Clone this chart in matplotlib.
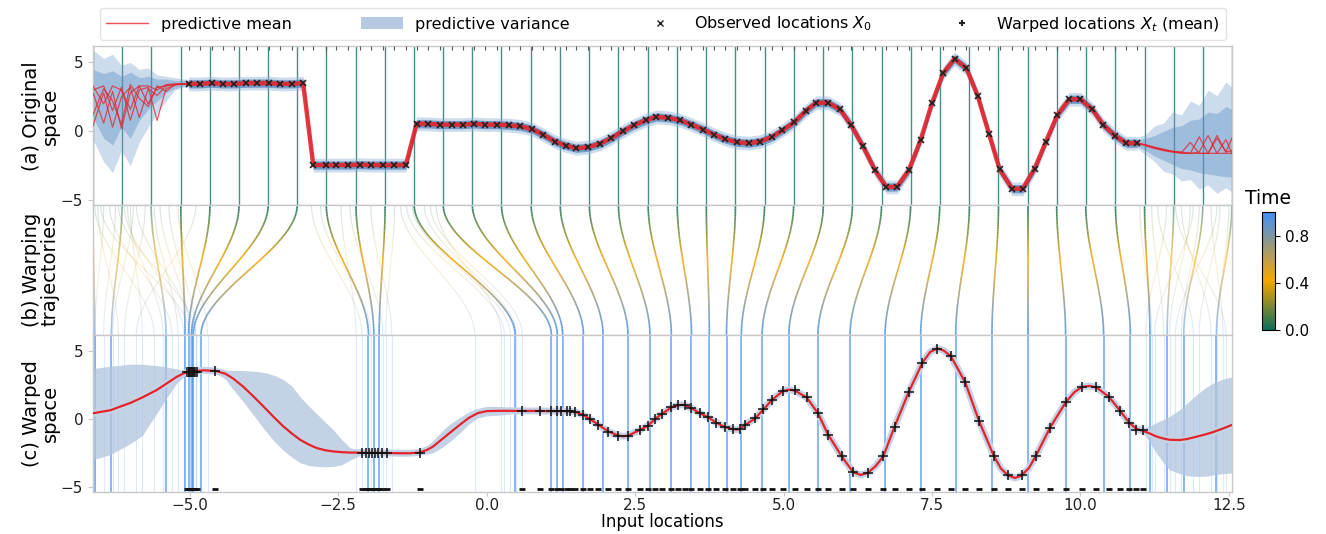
import numpy as np
import matplotlib
matplotlib.use("Agg")
import matplotlib.pyplot as plt
from matplotlib.collections import LineCollection
from matplotlib.colors import LinearSegmentedColormap, Normalize
from matplotlib.lines import Line2D
from matplotlib.patches import Patch
from matplotlib.cm import ScalarMappable

# ---------------- data ----------------
# observed locations X0 and values (original space)
obs_x = [-5.02, -4.83, -4.63, -4.44, -4.25, -4.06, -3.86, -3.67, -3.48, -3.28, -3.09,
         -2.92, -2.71, -2.53, -2.33, -2.13, -1.94, -1.75, -1.56, -1.36,
         -1.18, -0.98, -0.79, -0.59, -0.40, -0.21, -0.02, 0.18, 0.38, 0.56, 0.76, 0.95,
         1.15, 1.33, 1.51, 1.71, 1.91, 2.10, 2.29, 2.48, 2.68, 2.86, 3.06,
         3.25, 3.45, 3.65, 3.83, 4.02, 4.22, 4.42, 4.60, 4.80, 4.98, 5.18, 5.37, 5.55,
         5.75, 5.95, 6.14, 6.34, 6.54, 6.73, 6.91,
         7.11, 7.31, 7.50, 7.69, 7.88, 8.08, 8.27, 8.46, 8.64, 8.85, 9.03, 9.23, 9.42,
         9.61, 9.81, 10.00, 10.20, 10.38, 10.58, 10.77, 10.96]
obs_y = [3.45, 3.45, 3.50, 3.45, 3.45, 3.50, 3.50, 3.50, 3.45, 3.45, 3.50,
         -2.45, -2.45, -2.45, -2.45, -2.42, -2.45, -2.45, -2.45, -2.45,
         0.55, 0.54, 0.49, 0.49, 0.49, 0.54, 0.49, 0.49, 0.44, 0.37, 0.17, -0.24,
         -0.74, -1.03, -1.23, -1.15, -0.90, -0.49, 0.00, 0.44, 0.81, 1.05, 0.98,
         0.81, 0.49, 0.13, -0.24, -0.57, -0.79, -0.86, -0.74, -0.42, 0.07, 0.66, 1.47, 2.08,
         2.08, 1.60, 0.44, -1.10, -2.82, -4.04, -4.04,
         -2.82, -0.61, 2.04, 4.24, 5.27, 4.58, 2.57, -0.17, -2.77, -4.17, -4.17, -2.70, -0.74,
         1.18, 2.33, 2.33, 1.60, 0.49, -0.32, -0.86, -0.86]

# uncertain edges of the original space (sampled predictive means)
left_x = [-6.63, -6.45, -6.3, -6.15, -6.0, -5.85, -5.7, -5.55, -5.4, -5.25, -5.1, -5.02]
left_samples = [
    [0.4, 2.8, 0.3, 2.5, 3.2, 1.0, 3.1, 2.6, 3.3, 3.4, 3.45, 3.45],
    [2.8, 0.6, 2.9, 0.2, 2.8, 3.3, 2.0, 3.2, 3.3, 3.4, 3.45, 3.45],
    [3.0, 3.3, 1.5, 3.2, 0.8, 3.0, 3.2, 0.8, 3.1, 3.35, 3.45, 3.45],
    [1.2, 3.1, 2.2, 0.5, 3.4, 2.4, 1.8, 3.3, 2.9, 3.4, 3.45, 3.45],
    [3.3, 2.0, 3.3, 3.0, 1.6, 3.3, 3.3, 3.0, 3.4, 3.45, 3.45, 3.45],
]
left_hi_out = [5.9, 5.3, 5.6, 4.8, 5.0, 4.5, 4.6, 4.1, 4.0, 3.9, 3.8, 3.8]
left_lo_out = [-0.6, -2.2, -3.0, -1.4, -2.5, -0.8, 0.3, 1.3, 2.2, 3.0, 3.2, 3.2]
left_hi_in = [4.5, 4.2, 4.4, 4.0, 4.3, 3.9, 4.0, 3.8, 3.8, 3.7, 3.7, 3.7]
left_lo_in = [1.0, -0.5, -1.0, 0.3, -0.5, 0.8, 1.6, 2.2, 2.8, 3.1, 3.3, 3.3]

right_x = [10.96, 11.1, 11.25, 11.4, 11.55, 11.7, 11.85, 12.0, 12.15, 12.3, 12.45, 12.55]
right_samples = [
    [-0.86, -1.0, -1.2, -1.35, -1.45, -1.55, -1.6, -1.6, -1.6, -1.6, -1.6, -1.6],
    [-0.86, -1.05, -1.25, -1.4, -1.5, -1.6, -1.6, -0.4, -1.6, -0.3, -1.5, -0.5],
    [-0.86, -0.98, -1.15, -1.3, -1.45, -1.5, -1.6, -1.5, -0.3, -1.6, -0.6, -1.6],
    [-0.86, -1.0, -1.2, -1.35, -1.5, -1.55, -0.8, -1.6, -1.6, -0.5, -1.5, -1.4],
]
right_hi_out = [-0.45, -0.2, 0.4, 0.6, 1.4, 1.2, 2.2, 1.9, 3.0, 2.6, 3.6, 3.2]
right_lo_out = [-1.25, -1.7, -2.2, -2.9, -3.1, -3.6, -3.5, -4.2, -3.9, -4.5, -4.1, -4.4]
right_hi_in = [-0.6, -0.5, -0.3, 0.0, 0.3, 0.4, 0.8, 0.9, 1.4, 1.3, 1.8, 1.6]
right_lo_in = [-1.1, -1.4, -1.8, -2.1, -2.4, -2.7, -2.8, -3.0, -3.1, -3.2, -3.3, -3.3]

# warping trajectories: start (t=0) and end (t=1) locations
traj_start = [-6.63, -6.14, -5.65, -5.15, -4.66, -4.17, -3.68, -3.19, -2.70, -2.20,
              -1.71, -1.22, -0.73, -0.24, 0.25, 0.75, 1.24, 1.73, 2.22, 2.72,
              3.21, 3.70, 4.19, 4.68, 5.17, 5.67, 6.16, 6.65, 7.14, 7.63,
              8.13, 8.62, 9.11, 9.60, 10.09, 10.59, 11.08, 11.57, 12.06, 12.55]
traj_end = [-6.60, -6.32, -5.40, -5.08, -5.02, -4.97, -4.94, -4.81, -1.99, -1.90,
            -1.81, 0.48, 1.09, 1.19, 1.28, 1.63, 1.96, 2.38, 2.75, 3.11,
            3.45, 3.75, 4.04, 4.29, 4.64, 5.09, 5.58, 6.12, 6.71, 7.31,
            7.90, 8.51, 9.11, 9.75, 10.39, 10.84, 11.17, 11.46, 11.74, 12.29]
faint_start = [-6.55, -6.45, -6.35, -6.25, -6.1, -6.0, -5.9, -5.75, -5.5, -5.35,
               -6.6, -6.2, -5.95, -5.6, -5.2, -4.9, -6.5, -6.05,
               -2.95, -2.8, -2.45, -2.3, -1.95, -1.55, -1.45, -1.35, -1.25, -1.05, -0.95, -0.85,
               11.0, 11.2, 11.3, 11.45, 11.7, 11.85, 12.0, 12.2, 12.35, 12.5,
               11.6, 11.9, 12.3]
faint_end = [-6.2, -6.6, -5.3, -6.45, -5.1, -5.8, -4.95, -6.1, -5.0, -4.9,
             -5.6, -4.9, -6.3, -5.2, -4.7, -5.9, -5.0, -5.45,
             -2.1, -1.95, -2.2, -1.75, -1.6, -1.7, -0.2, 0.3, 0.4, 0.5, 0.6, 0.25,
             11.2, 11.4, 11.9, 11.1, 12.2, 11.5, 11.7, 12.4, 12.0, 12.3,
             12.45, 11.25, 11.6]

# warped locations X_t (mean) and values
warp_x = [-5.04, -5.02, -5.01, -4.99, -4.98, -4.96, -4.95, -4.93, -4.91, -4.88, -4.57,
          -2.10, -2.04, -1.98, -1.93, -1.88, -1.83, -1.77, -1.68, -1.13,
          0.59, 0.90, 1.09, 1.18, 1.26, 1.35, 1.41, 1.49, 1.63, 1.74, 1.88, 2.05, 2.22, 2.38,
          2.58, 2.72, 2.83, 2.95, 3.11, 3.23, 3.34, 3.45, 3.59, 3.73, 3.87, 4.01, 4.15, 4.26,
          4.35, 4.52, 4.66, 4.80, 4.99, 5.19, 5.39, 5.58, 5.75, 5.98, 6.17, 6.42, 6.68,
          6.87, 7.11, 7.34, 7.59, 7.82, 8.06, 8.29, 8.54, 8.78, 9.01, 9.25, 9.49, 9.75,
          10.03, 10.27, 10.48, 10.67, 10.82, 10.94, 11.05]
warp_y = [3.5, 3.5, 3.5, 3.5, 3.5, 3.5, 3.5, 3.5, 3.5, 3.5, 3.55,
          -2.45, -2.45, -2.45, -2.45, -2.45, -2.45, -2.45, -2.45, -2.45,
          0.61, 0.61, 0.60, 0.60, 0.60, 0.60, 0.59, 0.56, 0.31, 0.00, -0.42, -0.91, -1.22, -1.20,
          -0.78, -0.47, 0.00, 0.39, 0.88, 1.05, 1.05, 0.80, 0.44, 0.15, -0.25, -0.59, -0.73, -0.73,
          -0.42, 0.07, 0.73, 1.41, 2.10, 2.13, 1.61, 0.44, -1.15, -2.73, -3.90, -3.95, -2.73,
          -0.54, 2.02, 4.17, 5.20, 4.63, 2.71, -0.10, -2.69, -4.13, -4.13, -2.69, -0.61, 1.24,
          2.39, 2.34, 1.65, 0.61, -0.25, -0.78, -0.78]

# predictive mean in warped space
curve_x = [-6.63, -6.34, -6.0, -5.8, -5.56, -5.4, -5.22, -5.10, -5.0, -4.77, -4.57, -4.4,
           -4.27, -4.1, -3.98, -3.84, -3.70, -3.56, -3.42, -3.28, -3.14, -3.0, -2.86, -2.72,
           -2.58, -2.44, -2.30, -2.10, -1.90, -1.68, -1.46, -1.30, -1.13, -1.0, -0.90, -0.76,
           -0.62, -0.45, -0.30, -0.15, 0.0, 0.2, 0.4, 0.59, 0.90, 1.09, 1.26, 1.41, 1.49, 1.63,
           1.74, 1.88, 2.05, 2.22, 2.30, 2.38, 2.58, 2.72, 2.83, 2.95, 3.11, 3.23, 3.29, 3.34,
           3.45, 3.59, 3.73, 3.87, 4.01, 4.15, 4.21, 4.26, 4.35, 4.52, 4.66, 4.80, 4.99, 5.09,
           5.19, 5.39, 5.58, 5.75, 5.98, 6.17, 6.30, 6.42, 6.55, 6.68, 6.87, 7.11, 7.34, 7.47,
           7.59, 7.70, 7.82, 8.06, 8.29, 8.54, 8.66, 8.78, 8.90, 9.01, 9.13, 9.25, 9.49, 9.75,
           9.90, 10.03, 10.15, 10.27, 10.48, 10.67, 10.82, 10.94, 11.05, 11.17, 11.28, 11.4,
           11.5, 11.67, 11.8, 11.95, 12.1, 12.23, 12.4, 12.55]
curve_mean = [0.44, 0.66, 1.2, 1.6, 2.14, 2.6, 3.12, 3.38, 3.5, 3.6, 3.56, 3.35,
              3.0, 2.4, 1.9, 1.3, 0.68, 0.05, -0.54, -1.05, -1.51, -1.85, -2.12, -2.28,
              -2.37, -2.42, -2.45, -2.46, -2.47, -2.48, -2.50, -2.50, -2.45, -2.25, -2.0, -1.5,
              -1.0, -0.4, 0.1, 0.45, 0.6, 0.62, 0.62, 0.61, 0.61, 0.60, 0.60, 0.59, 0.55, 0.31,
              0.02, -0.40, -0.90, -1.20, -1.25, -1.21, -0.79, -0.46, 0.0, 0.39, 0.87, 1.03, 1.06, 1.04,
              0.81, 0.45, 0.14, -0.25, -0.58, -0.73, -0.76, -0.73, -0.43, 0.05, 0.71, 1.40, 2.08, 2.18,
              2.11, 1.60, 0.44, -1.13, -2.73, -3.88, -4.1, -3.94, -3.45, -2.73, -0.54, 2.02, 4.17, 4.95,
              5.22, 5.05, 4.62, 2.71, -0.10, -2.69, -3.62, -4.13, -4.32, -4.13, -3.6, -2.69, -0.61, 1.24,
              2.0, 2.38, 2.45, 2.34, 1.65, 0.61, -0.25, -0.70, -0.85, -1.05, -1.27, -1.42,
              -1.51, -1.53, -1.45, -1.29, -1.12, -0.95, -0.68, -0.42]
# predictive variance band in warped space (left part: first 43 curve points, right: last 12)
band_left_hi = [3.73, 3.9, 4.05, 4.05, 3.95, 3.85, 3.7, 3.62, 3.6, 3.72, 3.68, 3.6, 3.6, 3.58,
                3.55, 3.5, 3.4, 3.2, 2.9, 2.45, 1.65, 1.0, 0.4, -0.2, -0.78, -1.5, -2.1, -2.35,
                -2.35, -2.35, -2.38, -2.38, -2.3, -1.95, -1.55, -0.9, -0.35, 0.15, 0.55, 0.8,
                0.95, 0.95, 0.85]
band_left_lo = [-2.98, -2.6, -1.8, -1.2, 0.4, 1.5, 2.65, 3.15, 3.38, 3.48, 3.44, 2.95, 2.2, 1.3,
                0.6, -0.2, -1.0, -1.7, -2.3, -2.8, -3.2, -3.4, -3.47, -3.5, -3.47, -3.35, -3.0,
                -2.6, -2.6, -2.6, -2.62, -2.62, -2.6, -2.55, -2.45, -2.1, -1.65, -1.0, -0.35,
                0.1, 0.25, 0.3, 0.4]
band_right_hi = [-0.65, -0.5, -0.25, 0.0, 0.19, 0.7, 1.2, 1.78, 2.3, 2.65, 2.95, 3.12]
band_right_lo = [-0.95, -1.7, -2.5, -3.2, -3.71, -4.0, -4.15, -4.2, -4.2, -4.1, -4.0, -3.95]

x_ticks = [-5.0, -2.5, 0.0, 2.5, 5.0, 7.5, 10.0, 12.5]
y_ticks = [-5, 0, 5]
cbar_ticks = [0.0, 0.4, 0.8]

# ---------------- style ----------------
RED = '#e3242b'
SPINE = '#c8c8c8'
cmap = LinearSegmentedColormap.from_list(
    'time', [(0.0, '#0b6e5c'), (0.42, '#f7a600'), (1.0, '#3f8ef7')])
norm = Normalize(0, 1)
XLIM = (-6.63, 12.55)
YLIM = (-5.35, 6.2)

fig = plt.figure(figsize=(13.26, 5.34), dpi=100)
L, R = 0.0701, 0.929
axa = fig.add_axes([L, 0.6161, R - L, 0.9139 - 0.6161])
axb = fig.add_axes([L, 0.3727, R - L, 0.6161 - 0.3727])
axc = fig.add_axes([L, 0.0787, R - L, 0.3727 - 0.0787])

for ax in (axa, axb, axc):
    ax.set_xlim(*XLIM)
    for s in ax.spines.values():
        s.set_color(SPINE)
        s.set_linewidth(1.0)
    ax.tick_params(color=SPINE, labelcolor='#222222', labelsize=11)

# ---------- (a) original space ----------
for x in traj_start:
    axa.axvline(x, color='#1d6f68', lw=1.0, alpha=0.8, zorder=1)
axa.fill_between(left_x, left_lo_out, left_hi_out, color='#6f9bc9', alpha=0.35, lw=0, zorder=2)
axa.fill_between(left_x, left_lo_in, left_hi_in, color='#5b8ec6', alpha=0.4, lw=0, zorder=2)
axa.fill_between(right_x, right_lo_out, right_hi_out, color='#6f9bc9', alpha=0.35, lw=0, zorder=2)
axa.fill_between(right_x, right_lo_in, right_hi_in, color='#5b8ec6', alpha=0.4, lw=0, zorder=2)
oy = np.array(obs_y)
axa.fill_between(obs_x, oy - 0.5, oy + 0.5, color='#8fb3d9', alpha=0.45, lw=0, zorder=2)
axa.fill_between(obs_x, oy - 0.3, oy + 0.3, color='#4f7fb8', alpha=0.7, lw=0, zorder=2)
for ys in left_samples:
    axa.plot(left_x, ys, color=RED, lw=0.9, alpha=0.75, zorder=3)
for ys in right_samples:
    axa.plot(right_x, ys, color=RED, lw=0.9, alpha=0.75, zorder=3)
axa.plot(obs_x, obs_y, color=RED, lw=3.2, alpha=0.9, zorder=4, solid_joinstyle='round')
axa.plot(obs_x, obs_y, ls='none', marker='x', ms=5, mew=1.2, color='#222222', zorder=5)
axa.plot(obs_x, [0.985] * len(obs_x), ls='none', marker='|', ms=3, mew=0.8,
         color='#555555', transform=axa.get_xaxis_transform(), zorder=5)
axa.set_ylim(*YLIM)
axa.set_yticks(y_ticks)
axa.set_xticks([])
axa.set_ylabel('(a) Original\nspace', fontsize=14, linespacing=1.0)
axa.yaxis.set_label_coords(-0.029, 0.56)

# ---------- (b) warping trajectories ----------
t = np.linspace(0, 1, 80)
s = t * t * (3 - 2 * t)


def add_traj(x0, x1, alpha, lw):
    xs = x0 + (x1 - x0) * s
    pts = np.column_stack([xs, t]).reshape(-1, 1, 2)
    segs = np.concatenate([pts[:-1], pts[1:]], axis=1)
    lc = LineCollection(segs, cmap=cmap, norm=norm, alpha=alpha, linewidths=lw)
    lc.set_array((t[:-1] + t[1:]) / 2)
    axb.add_collection(lc)


for x0, x1 in zip(faint_start, faint_end):
    add_traj(x0, x1, 0.18, 0.8)
n = len(traj_start)
for i, (x0, x1) in enumerate(zip(traj_start, traj_end)):
    edge = i < 3 or i >= n - 3
    add_traj(x0, x1, 0.55 if edge else 0.9, 1.2)
axb.set_ylim(1, 0)
axb.set_xticks([])
axb.set_yticks([])
axb.set_ylabel('(b) Warping\ntrajectories', fontsize=14, linespacing=1.0)
axb.yaxis.set_label_coords(-0.029, 0.5)

# ---------- (c) warped space ----------
for x in faint_end:
    axc.axvline(x, color=cmap(1.0), lw=0.8, alpha=0.18, zorder=1)
for x in traj_end:
    axc.axvline(x, color=cmap(1.0), lw=1.1, alpha=0.8, zorder=1)
axc.fill_between(curve_x[:43], band_left_lo, band_left_hi, color='#b0c4de', alpha=0.75, lw=0, zorder=2)
axc.fill_between(curve_x[-12:], band_right_lo, band_right_hi, color='#b0c4de', alpha=0.75, lw=0, zorder=2)
axc.plot(curve_x, curve_mean, color='#c4d3e6', lw=5, zorder=3)
axc.plot(curve_x, curve_mean, color=RED, lw=1.6, zorder=4)
axc.plot(warp_x, warp_y, ls='none', marker='+', ms=7, mew=1.1, color='#111111', zorder=5)
axc.plot(warp_x, [0.02] * len(warp_x), ls='none', marker='_', ms=4, mew=2,
         color='#111111', transform=axc.get_xaxis_transform(), zorder=5)
axc.set_ylim(*YLIM)
axc.set_yticks(y_ticks)
axc.set_xticks(x_ticks)
axc.tick_params(axis='x', length=3, pad=1.5)
axc.set_xlabel('Input locations', fontsize=12, labelpad=0)
axc.set_ylabel('(c) Warped\nspace', fontsize=14, linespacing=1.0)
axc.yaxis.set_label_coords(-0.029, 0.5)

# ---------- colorbar ----------
cax = fig.add_axes([0.9517, 0.382, 0.0098, 0.221])
sm = ScalarMappable(norm=norm, cmap=cmap)
cb = fig.colorbar(sm, cax=cax, ticks=cbar_ticks)
cb.ax.tick_params(labelsize=11)
cb.outline.set_linewidth(0.8)
cax.set_title('Time', fontsize=13.5, pad=6)

# ---------- legend ----------
handles = [Line2D([], [], color=RED, lw=1.0, alpha=0.8),
           Patch(facecolor='#b0c4de', edgecolor='none', alpha=0.9),
           Line2D([], [], ls='none', marker='x', ms=4, mew=1, color='#222222'),
           Line2D([], [], ls='none', marker='+', ms=5, mew=1.5, color='#222222')]
labels = ['predictive mean', 'predictive variance',
          'Observed locations $X_0$', 'Warped locations $X_t$ (mean)']
fig.legend(handles, labels, loc='lower left', bbox_to_anchor=(0.0754, 0.925, 0.849, 0.068),
           mode='expand', ncol=4, fontsize=11.5, frameon=True, edgecolor='#dddddd',
           handlelength=2.6, borderaxespad=0, fancybox=True)

fig.savefig('out.png', dpi=100, facecolor='white')
